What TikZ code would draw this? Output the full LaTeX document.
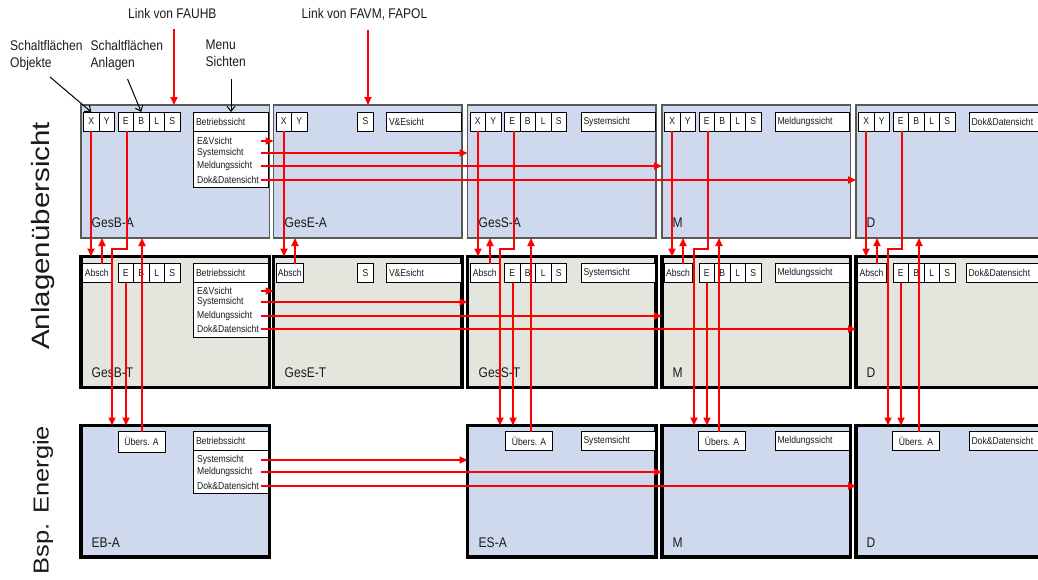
\documentclass[tikz,border=0pt]{standalone}
\usepackage{fontspec}
\setmainfont{Liberation Sans}[FakeStretch=0.86]
\newfontfamily\rotfont{Liberation Sans}
\usetikzlibrary{arrows.meta}
\definecolor{blueA}{HTML}{CFD9EE}
\definecolor{greenT}{HTML}{E2E6DC}
\definecolor{txt}{HTML}{1A1A1A}
\newcommand\cXY[3]{%
  \node[cell,minimum width=15.5pt] (X#1) at ({#2+2.5},#3) {X};
  \node[cell,minimum width=15.5pt] (Y#1) at ({#2+18},#3) {Y};}
\newcommand\cEBLS[3]{%
  \node[cell,minimum width=15.5pt] (E#1) at ({#2+37},#3) {E};
  \node[cell,minimum width=15.5pt] (B#1) at ({#2+52.5},#3) {B};
  \node[cell,minimum width=15.5pt] (L#1) at ({#2+68},#3) {L};
  \node[cell,minimum width=15.5pt] (S#1) at ({#2+83.5},#3) {S};}
\begin{document}
\begin{tikzpicture}[x=1pt,y=-1pt,
  every node/.style={text=txt},
  boxA/.style={draw=black!65, line width=1.3pt, fill=blueA, anchor=north west,
    minimum width=188.5pt, minimum height=133pt, inner sep=0pt, outer sep=0pt},
  boxT/.style={boxA, draw=black, line width=3.2pt, fill=greenT, minimum height=131pt},
  boxE/.style={boxA, draw=black, line width=3.2pt, minimum height=131.5pt},
  cell/.style={draw=black, line width=0.9pt, fill=white, anchor=north west,
    minimum height=19pt, inner sep=0pt, outer sep=0pt, font=\fontsize{10}{10}\selectfont},
  mhead/.style={cell, minimum width=74.5pt, text width=69.5pt, inner xsep=2.5pt, align=left},
  mlist/.style={draw=black, line width=0.9pt, fill=white, anchor=north west,
    minimum width=74.5pt, inner sep=0pt, outer sep=0pt},
  item/.style={anchor=west, inner sep=0pt, font=\fontsize{10}{10}\selectfont},
  boxlbl/.style={anchor=west, inner sep=0pt, font=\fontsize{14}{14}\selectfont},
  note/.style={anchor=north west, inner sep=0pt, align=left, font=\fontsize{14}{17}\selectfont},
  sidelbl/.style={rotate=90, inner sep=0pt},
  redarr/.style={draw=red, line width=1.7pt, -{Triangle[length=8pt,width=7pt]}},
  blkarr/.style={draw=black, line width=1pt, -{Straight Barb[length=5pt,width=8pt]}},
]
\useasboundingbox (0,0) rectangle (1038,579);
\clip (0,0) rectangle (1038,579);

% ---------- boxes ----------
\node[boxA] (RA1) at (81,105) {};
\node[boxA] (RA2) at (273.5,105) {};
\node[boxA] (RA3) at (467.5,105) {};
\node[boxA] (RA4) at (662,105) {};
\node[boxA] (RA5) at (856,105) {};
\node[boxT] (RT1) at (81,256.5) {};
\node[boxT] (RT2) at (273.5,256.5) {};
\node[boxT] (RT3) at (467.5,256.5) {};
\node[boxT] (RT4) at (662,256.5) {};
\node[boxT] (RT5) at (856,256.5) {};
\node[boxE] (RE1) at (81,425.5) {};
\node[boxE] (RE3) at (467.5,425.5) {};
\node[boxE] (RE4) at (662,425.5) {};
\node[boxE] (RE5) at (856,425.5) {};

% box labels
\node[boxlbl] (gA1) at (91.5,223) {GesB-A};
\node[boxlbl] (gA2) at (284.5,223) {GesE-A};
\node[boxlbl] (gA3) at (478.5,223) {GesS-A};
\node[boxlbl] (gA4) at (672.5,223) {M};
\node[boxlbl] (gA5) at (866.5,223) {D};
\node[boxlbl] (gT1) at (91.5,373) {GesB-T};
\node[boxlbl] (gT2) at (284.5,373) {GesE-T};
\node[boxlbl] (gT3) at (478.5,373) {GesS-T};
\node[boxlbl] (gT4) at (672.5,373) {M};
\node[boxlbl] (gT5) at (866.5,373) {D};
\node[boxlbl] (gE1) at (91.5,543) {EB-A};
\node[boxlbl] (gE3) at (478.5,543) {ES-A};
\node[boxlbl] (gE4) at (672.5,543) {M};
\node[boxlbl] (gE5) at (866.5,543) {D};

% ---------- row 1 cells ----------
\cXY{1a}{81}{112}\cEBLS{1a}{81}{112}
\node[mhead] (M1a) at (193.5,112) {Betriebssicht};
\node[mlist, minimum height=56pt] (ML1a) at (M1a.south west) {};
\node[item] (I1a1) at (197,141) {E\&Vsicht};
\node[item] (I1a2) at (197,153) {Systemsicht};
\node[item] (I1a3) at (197,166) {Meldungssicht};
\node[item] (I1a4) at (197,180) {Dok\&Datensicht};

\cXY{2a}{273.5}{112}
\node[cell,minimum width=16pt] (S2a) at (357.5,112) {S};
\node[mhead] (M2a) at (386.5,112) {V\&Esicht};

\cXY{3a}{467.5}{112}\cEBLS{3a}{467.5}{112}
\node[mhead] (M3a) at (581,112) {Systemsicht};

\cXY{4a}{662}{112}\cEBLS{4a}{662}{112}
\node[mhead] (M4a) at (775,112) {Meldungssicht};

\cXY{5a}{856}{112}\cEBLS{5a}{856}{112}
\node[mhead] (M5a) at (969,112) {Dok\&Datensicht};

% ---------- row 2 cells ----------
\node[cell,minimum width=28.5pt] (Ab1b) at (82.5,263.5) {Absch};
\cEBLS{1b}{81}{263.5}
\node[mhead] (M1b) at (193.5,263.5) {Betriebssicht};
\node[mlist, minimum height=55pt] (ML1b) at (M1b.south west) {};
\node[item] (I1b1) at (197,291) {E\&Vsicht};
\node[item] (I1b2) at (197,302) {Systemsicht};
\node[item] (I1b3) at (197,316) {Meldungssicht};
\node[item] (I1b4) at (197,329) {Dok\&Datensicht};

\node[cell,minimum width=27.5pt] (Ab2b) at (276,263.5) {Absch};
\node[cell,minimum width=16pt] (S2b) at (357.5,263.5) {S};
\node[mhead] (M2b) at (386.5,263.5) {V\&Esicht};

\node[cell,minimum width=29.5pt] (Ab3b) at (470,263.5) {Absch};
\cEBLS{3b}{467.5}{263.5}
\node[mhead] (M3b) at (581,263.5) {Systemsicht};

\node[cell,minimum width=28pt] (Ab4b) at (664,263.5) {Absch};
\cEBLS{4b}{662}{263.5}
\node[mhead] (M4b) at (775,263.5) {Meldungssicht};

\node[cell,minimum width=29pt] (Ab5b) at (857,263.5) {Absch};
\cEBLS{5b}{856}{263.5}
\node[mhead] (M5b) at (966,263.5) {Dok\&Datensicht};

% ---------- row 3 cells ----------
\node[cell,minimum width=47pt,minimum height=20.5pt] (U1c) at (118,431.5) {Übers. A};
\node[mhead] (M1c) at (193.5,431.5) {Betriebssicht};
\node[mlist, minimum height=43pt] (ML1c) at (M1c.south west) {};
\node[item] (I1c1) at (197,460) {Systemsicht};
\node[item] (I1c2) at (197,472) {Meldungssicht};
\node[item] (I1c3) at (197,486) {Dok\&Datensicht};

\node[cell,minimum width=47pt] (U3c) at (505.5,431.5) {Übers. A};
\node[mhead] (M3c) at (581,431.5) {Systemsicht};
\node[cell,minimum width=47pt] (U4c) at (698.5,431.5) {Übers. A};
\node[mhead] (M4c) at (775,431.5) {Meldungssicht};
\node[cell,minimum width=47pt] (U5c) at (892.5,431.5) {Übers. A};
\node[mhead] (M5c) at (969,431.5) {Dok\&Datensicht};

% ---------- horizontal red connectors ----------
\draw[redarr] ([xshift=-7pt]ML1a.east |- I1a1) -- (RA2.west |- I1a1);
\draw[redarr] ([xshift=-7pt]ML1a.east |- I1a2) -- (RA3.west |- I1a2);
\draw[redarr] ([xshift=-7pt]ML1a.east |- I1a3) -- (RA4.west |- I1a3);
\draw[redarr] ([xshift=-7pt]ML1a.east |- I1a4) -- (RA5.west |- I1a4);
\draw[redarr] ([xshift=-7pt]ML1b.east |- I1b1) -- (RT2.west |- I1b1);
\draw[redarr] ([xshift=-7pt]ML1b.east |- I1b2) -- (RT3.west |- I1b2);
\draw[redarr] ([xshift=-7pt]ML1b.east |- I1b3) -- (RT4.west |- I1b3);
\draw[redarr] ([xshift=-7pt]ML1b.east |- I1b4) -- (RT5.west |- I1b4);
\draw[redarr] ([xshift=-7pt]ML1c.east |- I1c1) -- (RE3.west |- I1c1);
\draw[redarr] ([xshift=-7pt]ML1c.east |- I1c2) -- (RE4.west |- I1c2);
\draw[redarr] ([xshift=-7pt]ML1c.east |- I1c3) -- (RE5.west |- I1c3);

% ---------- vertical red connectors ----------
\foreach \c/\xx/\xa/\xe/\xk/\xf/\xu in
   {1/91/102/127/112/126/142, 3/478/490/514/500/513/531,
    4/672/683/708/694/707/719, 5/866/877/902/888/901/919}{
  \coordinate (K\c) at (\xk,249);
  \draw[redarr] (\xx,0 |- X\c a.south) -- (\xx,0 |- RT\c.north);
  \draw[redarr] (\xa,0 |- Ab\c b.north) -- (\xa,0 |- RA\c.south);
  \draw[redarr] (\xe,0 |- E\c a.south) |- (K\c) -- (K\c |- RE\c.north);
  \draw[redarr] (\xf,0 |- E\c b.south) -- (\xf,0 |- RE\c.north);
  \draw[redarr] (\xu,0 |- U\c c.north) -- (\xu,0 |- RA\c.south);
}
\draw[redarr] (284,0 |- X2a.south) -- (284,0 |- RT2.north);
\draw[redarr] (295,0 |- Ab2b.north) -- (295,0 |- RA2.south);

% ---------- annotations ----------
\node[note] (n1) at (10,40) {Schaltflächen\\Objekte};
\node[note] (n2) at (90.5,40) {Schaltflächen\\Anlagen};
\node[note] (n3) at (205.5,40) {Menu\\Sichten};
\node[note] (lk1) at (128,8) {Link von FAUHB};
\node[note] (lk2) at (301.5,8) {Link von FAVM, FAPOL};
\coordinate (p1) at (50,77);
\coordinate (p2) at (127.5,79);
\coordinate (p3) at (231,79);
\draw[blkarr] (p1) -- (X1a.north);
\draw[blkarr] (p2) -- (B1a.north);
\draw[blkarr] (p3) -- (p3 |- M1a.north);
\coordinate (q1) at (174,29);
\coordinate (q2) at (368,30);
\draw[redarr] (q1) -- (q1 |- RA1.north);
\draw[redarr] (q2) -- (q2 |- RA2.north);

% ---------- side labels ----------
\node[sidelbl, font=\rotfont\fontsize{29.5}{29.5}\selectfont] (s1) at (43,236) {\scalebox{1}[0.85]{Anlagenübersicht}};
\node[sidelbl, font=\rotfont\fontsize{25.5}{25.5}\selectfont] (s2) at (43,500) {\scalebox{1}[0.85]{Bsp. Energie}};
\end{tikzpicture}
\end{document}
